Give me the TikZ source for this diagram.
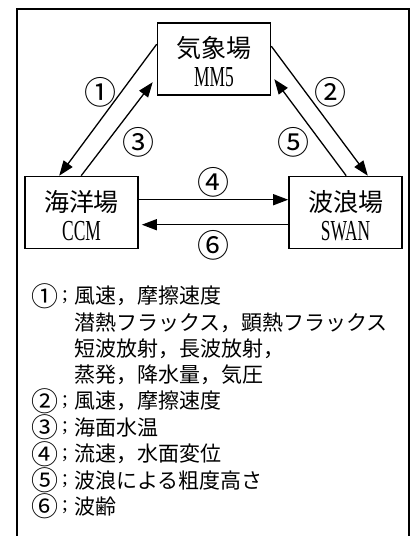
\documentclass[tikz,border=0pt]{standalone}
\usepackage{fontspec}
\usetikzlibrary{arrows.meta}
\newfontfamily\cjk{Noto Sans CJK JP}
\newfontfamily\lat[FakeStretch=0.6]{Liberation Serif}
\newfontfamily\semi{Liberation Serif}
\begin{document}
\begin{tikzpicture}[x=1pt,y=-1pt,
  model/.style={draw,line width=1.6pt,minimum width=113pt,minimum height=72pt,inner sep=0pt},
  bigj/.style={inner sep=0pt,font=\cjk\fontsize{25}{25}\selectfont},
  bigl/.style={inner sep=0pt,font=\lat\fontsize{29}{29}\selectfont},
  num/.style={inner sep=0pt,font=\cjk\fontsize{32}{32}\selectfont},
  lnum/.style={inner sep=0pt,font=\cjk\fontsize{27}{27}\selectfont},
  lsemi/.style={inner sep=0pt,font=\semi\fontsize{21}{21}\selectfont},
  leg/.style={inner sep=0pt,anchor=west,font=\cjk\fontsize{21}{21}\selectfont},
  flow/.style={line width=1.3pt,-{Triangle[length=15pt,width=11pt]}}]
\useasboundingbox (0,0) rectangle (418,536);
\draw[line width=1.8pt] (17,560) -- (17,9) -- (409,9) -- (409,560);
% boxes
\node[model] (atm) at (214,59) {};
\node[model] (ocn) at (81.5,212.5) {};
\node[model] (wav) at (345.5,212.5) {};
\node[bigj] (atmj) at (214,48) {気象場};
\node[bigl] (atml) at (214,77) {MM5};
\node[bigj] (ocnj) at (81.5,202) {海洋場};
\node[bigl] (ocnl) at (81.5,231) {CCM};
\node[bigj] (wavj) at (345.5,202) {波浪場};
\node[bigl] (wavl) at (345.5,231) {SWAN};
% connector end points
\coordinate (a1) at ([yshift=-22pt]atm.north west);
\coordinate (b1) at ([xshift=35pt]ocn.north west);
\coordinate (a3) at ([xshift=57pt]ocn.north west);
\coordinate (b3) at ([xshift=-4pt,yshift=-60pt]atm.north west);
\coordinate (a2) at ([yshift=-24pt]atm.north east);
\coordinate (b2) at ([xshift=-35pt]wav.north east);
\coordinate (a5) at ([xshift=58pt]wav.north west);
\coordinate (b5) at ([xshift=3pt,yshift=-57pt]atm.north east);
\coordinate (a4) at ([yshift=-24pt]ocn.north east);
\coordinate (b4) at ([yshift=-24pt]wav.north west);
\coordinate (a6) at ([yshift=-49pt]wav.north west);
\coordinate (b6) at ([xshift=3pt,yshift=-49pt]ocn.north east);
\draw[flow] (a1) -- (b1);
\draw[flow] (a3) -- (b3);
\draw[flow] (a2) -- (b2);
\draw[flow] (a5) -- (b5);
\draw[flow] (a4) -- (b4);
\draw[flow] (a6) -- (b6);
% connector labels
\node[num] (n1) at (100,92) {①};
\node[num] (n3) at (138,142) {③};
\node[num] (n2) at (330,92) {②};
\node[num] (n5) at (293,142) {⑤};
\node[num] (n4) at (213,182) {④};
\node[num] (n6) at (213,245) {⑥};
% legend
\node[lnum] (k1) at (45,296) {①};
\node[lsemi] (s1) at (65,297) {;};
\node[leg] (l1) at (74,296) {風速，摩擦速度};
\node[leg] (l1b) at (74,322.3) {潜熱フラックス，顕熱フラックス};
\node[leg] (l1c) at (74,348.6) {短波放射，長波放射，};
\node[leg] (l1d) at (74,374.9) {蒸発，降水量，気圧};
\node[lnum] (k2) at (45,401.2) {②};
\node[lsemi] (s2) at (65,402.2) {;};
\node[leg] (l2) at (74,401.2) {風速，摩擦速度};
\node[lnum] (k3) at (45,427.5) {③};
\node[lsemi] (s3) at (65,428.5) {;};
\node[leg] (l3) at (74,427.5) {海面水温};
\node[lnum] (k4) at (45,453.8) {④};
\node[lsemi] (s4) at (65,454.8) {;};
\node[leg] (l4) at (74,453.8) {流速，水面変位};
\node[lnum] (k5) at (45,480.1) {⑤};
\node[lsemi] (s5) at (65,481.1) {;};
\node[leg] (l5) at (74,480.1) {波浪による粗度高さ};
\node[lnum] (k6) at (45,506.4) {⑥};
\node[lsemi] (s6) at (65,507.4) {;};
\node[leg] (l6) at (74,506.4) {波齢};
\end{tikzpicture}
\end{document}
